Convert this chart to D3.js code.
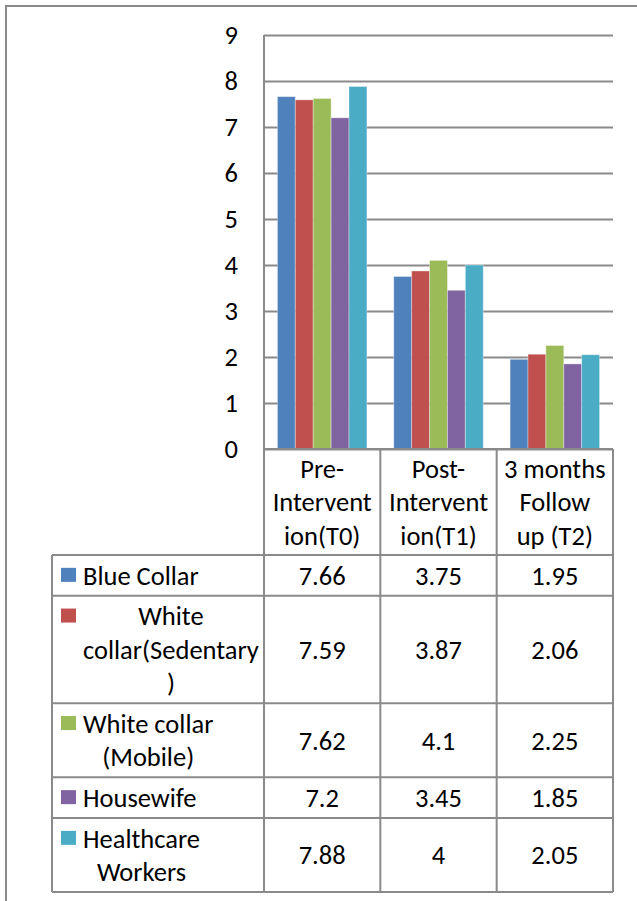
<!DOCTYPE html>
<html>
<head>
<meta charset="utf-8">
<script src="https://cdn.jsdelivr.net/npm/d3@7"></script>
<style>
  html, body { margin: 0; padding: 0; background: #fff; }
  svg { display: block; }
  text { font-family: Carlito, Calibri, Lato, sans-serif; fill: #000; }
</style>
</head>
<body>
<svg id="chart" width="637" height="901"></svg>
<script>
// ---- data ----
const categories = ["Pre-Intervention(T0)", "Post-Intervention(T1)", "3 months Follow up (T2)"];
const categoryLines = [["Pre-", "Intervent", "ion(T0)"], ["Post-", "Intervent", "ion(T1)"], ["3 months", "Follow", "up (T2)"]];
const seriesNames = ["Blue Collar", "White collar(Sedentary)", "White collar (Mobile)", "Housewife", "Healthcare Workers"];
const seriesLines = [["Blue Collar"], ["White", "collar(Sedentary", ")"], ["White collar", "(Mobile)"], ["Housewife"], ["Healthcare", "Workers"]];
const seriesColors = ["#4F81BD", "#C0504D", "#9BBB59", "#8064A2", "#4BACC6"];
const blueCollar = [7.66, 3.75, 1.95];
const whiteSedentary = [7.59, 3.87, 2.06];
const whiteMobile = [7.62, 4.1, 2.25];
const housewife = [7.2, 3.45, 1.85];
const healthcare = [7.88, 4, 2.05];
const seriesValues = [blueCollar, whiteSedentary, whiteMobile, housewife, healthcare];
const valueLabels = [["7.66", "3.75", "1.95"], ["7.59", "3.87", "2.06"], ["7.62", "4.1", "2.25"], ["7.2", "3.45", "1.85"], ["7.88", "4", "2.05"]];
const yTicks = [0, 1, 2, 3, 4, 5, 6, 7, 8, 9];

// ---- layout ----
const svg = d3.select("#chart");
const plotLeft = 264, plotRight = 613, plotTop = 35, plotBottom = 449;
const tableLeft = 52, textLeft = 83;
const fontSize = 26.5, lineH = 33.4, rowPad = 7.3;
const gridColor = "#8a8a8a";

const y = d3.scaleLinear().domain([0, 9]).range([plotBottom, plotTop]);
const x0 = d3.scaleBand().domain(categories).range([plotLeft, plotRight]).paddingInner(0).paddingOuter(0);
const x1 = d3.scaleBand().domain(seriesNames).range([0, x0.bandwidth()]).paddingInner(0).paddingOuter(0.75);

// outer frame
svg.append("rect").attr("x", 6).attr("y", 6).attr("width", 660).attr("height", 920)
  .attr("fill", "none").attr("stroke", gridColor).attr("stroke-width", 2);

// gridlines + y labels
const yAxis = d3.axisLeft(y).tickValues(yTicks).tickSize(-(plotRight - plotLeft)).tickPadding(26).tickFormat(d3.format("d"));
const ga = svg.append("g").attr("transform", `translate(${plotLeft},0)`).call(yAxis);
ga.select(".domain").remove();
ga.selectAll(".tick line").attr("stroke", gridColor).attr("stroke-width", 2);
ga.selectAll(".tick text").attr("font-size", fontSize).attr("fill", "#000")
  .style("font-family", "Carlito, Calibri, Lato, sans-serif");

// bars
const groups = svg.append("g").selectAll("g").data(categories).join("g")
  .attr("transform", d => `translate(${x0(d)},0)`);
groups.selectAll("rect").data((c, ci) => seriesNames.map((s, si) => ({ s, si, v: seriesValues[si][ci] })))
  .join("rect")
  .attr("x", d => x1(d.s))
  .attr("y", d => y(d.v))
  .attr("width", x1.bandwidth())
  .attr("height", d => y(0) - y(d.v))
  .attr("fill", d => seriesColors[d.si])
  .attr("stroke", "rgba(255,255,255,0.35)")
  .attr("stroke-width", 1);

// ---- data table ----
const headerH = 3 * lineH + 5.8;
const rowHeights = seriesLines.map(l => l.length * lineH + rowPad);
const rowTops = [];
let acc = plotBottom + headerH;
rowHeights.forEach(h => { rowTops.push(acc); acc += h; });
const tableBottom = acc;

const lines = svg.append("g").attr("stroke", gridColor).attr("stroke-width", 2).attr("fill", "none");
const colEdges = categories.map(c => x0(c)).concat([plotRight]);
colEdges.forEach(xv => {
  lines.append("line").attr("x1", xv).attr("x2", xv).attr("y1", xv === plotLeft ? plotTop : plotBottom).attr("y2", tableBottom);
});
lines.append("line").attr("x1", tableLeft).attr("x2", tableLeft).attr("y1", rowTops[0]).attr("y2", tableBottom);
lines.append("line").attr("x1", plotLeft).attr("x2", plotRight).attr("y1", plotBottom).attr("y2", plotBottom);
rowTops.concat([tableBottom]).forEach(yv => {
  lines.append("line").attr("x1", tableLeft).attr("x2", plotRight).attr("y1", yv).attr("y2", yv);
});

function multiline(g, arr, cx, cy, anchor) {
  const n = arr.length;
  arr.forEach((t, i) => {
    g.append("text").attr("x", cx).attr("y", cy + (i - (n - 1) / 2) * lineH)
      .attr("dy", "0.35em").attr("text-anchor", anchor || "middle").attr("font-size", fontSize).text(t);
  });
}

// header
const tg = svg.append("g");
categories.forEach((c, ci) => {
  multiline(tg, categoryLines[ci], x0(c) + x0.bandwidth() / 2, plotBottom + headerH / 2);
});

// rows
seriesNames.forEach((s, si) => {
  const top = rowTops[si], h = rowHeights[si], n = seriesLines[si].length;
  const cy = top + h / 2;
  const firstLineY = cy - (n - 1) / 2 * lineH;
  tg.append("rect").attr("x", 61).attr("y", firstLineY - 7.5).attr("width", 15).attr("height", 14)
    .attr("fill", seriesColors[si]);
  const tmp = tg.append("text").attr("font-size", fontSize);
  let maxW = 0;
  seriesLines[si].forEach(t => { tmp.text(t); maxW = Math.max(maxW, tmp.node().getComputedTextLength()); });
  tmp.remove();
  multiline(tg, seriesLines[si], textLeft + maxW / 2, cy);
  categories.forEach((c, ci) => {
    tg.append("text").attr("x", x0(c) + x0.bandwidth() / 2).attr("y", cy).attr("dy", "0.35em")
      .attr("text-anchor", "middle").attr("font-size", fontSize).text(valueLabels[si][ci]);
  });
});
</script>
</body>
</html>
